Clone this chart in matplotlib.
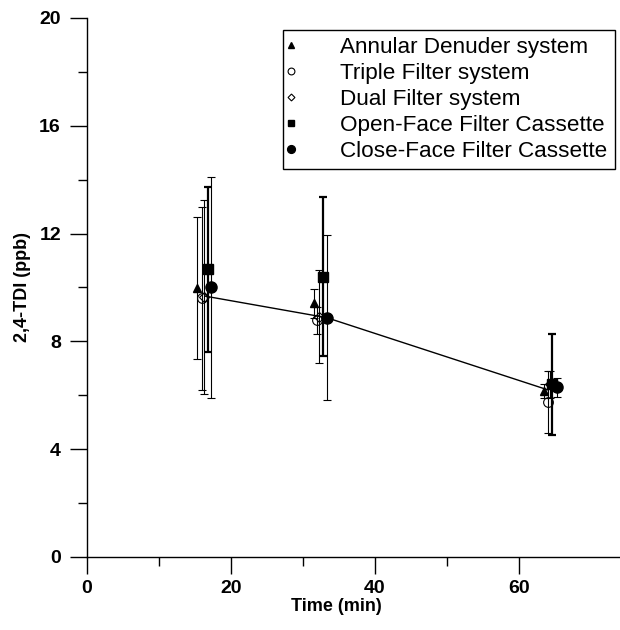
import matplotlib
matplotlib.use("Agg")
import matplotlib.pyplot as plt
from matplotlib.ticker import FixedLocator

plt.rcParams['font.family'] = ['Liberation Sans', 'DejaVu Sans']

# Data (Time in min, 2,4-TDI in ppb)
labels = ["Annular Denuder system", "Triple Filter system", "Dual Filter system",
          "Open-Face Filter Cassette", "Close-Face Filter Cassette"]
ad_t = [15.35, 31.5, 63.4]
ad_y = [9.97, 9.41, 6.15]
ad_e = [2.63, 0.55, 0.25]
tf_t = [15.95, 31.9, 64.0]
tf_y = [9.6, 8.79, 5.75]
tf_e = [3.4, 0.5, 1.15]
df_t = [16.25, 32.25, 64.3]
df_y = [9.66, 8.91, 6.4]
df_e = [3.6, 1.72, 0.5]
of_t = [16.8, 32.8, 64.6]
of_y = [10.67, 10.4, 6.4]
of_e = [3.07, 2.96, 1.88]
cf_t = [17.25, 33.3, 65.2]
cf_y = [10.0, 8.88, 6.3]
cf_e = [4.1, 3.07, 0.35]
mean_t = [16.4, 33.3, 64.0]
mean_y = [9.68, 8.88, 6.2]

x_ticks = [0, 20, 40, 60]
x_minor = [10, 30, 50]
y_ticks = [0, 4, 8, 12, 16, 20]
y_minor = [2, 6, 10, 14, 18]

fig = plt.figure(figsize=(6.2, 6.3), dpi=100)
ax = fig.add_axes([0.1398, 0.1159, 0.8602, 0.8556])

ax.plot(mean_t, mean_y, color='black', lw=1.0, zorder=2)

series = [
    (ad_t, ad_y, ad_e, dict(marker='^', ms=6, mfc='black', mec='black'), 0.8),
    (tf_t, tf_y, tf_e, dict(marker='o', ms=7, mfc='none', mec='black', mew=0.8), 0.8),
    (df_t, df_y, df_e, dict(marker='D', ms=5, mfc='none', mec='black', mew=0.8), 0.8),
    (of_t, of_y, of_e, dict(marker='s', ms=7, mfc='black', mec='black'), 1.6),
    (cf_t, cf_y, cf_e, dict(marker='o', ms=8, mfc='black', mec='black'), 0.8),
]
for (t, y, e, mk, elw), lab in zip(series, labels):
    ax.errorbar(t, y, yerr=e, linestyle='none', color='black', ecolor='black',
                elinewidth=elw, capsize=3, capthick=elw, label=lab, zorder=3, **mk)

ax.set_xlim(0, 74)
ax.set_ylim(0, 20)
ax.spines['top'].set_visible(False)
ax.spines['right'].set_visible(False)
for s in ['left', 'bottom']:
    ax.spines[s].set_linewidth(1.0)

ax.xaxis.set_major_locator(FixedLocator(x_ticks))
ax.xaxis.set_minor_locator(FixedLocator(x_minor))
ax.yaxis.set_major_locator(FixedLocator(y_ticks))
ax.yaxis.set_minor_locator(FixedLocator(y_minor))
ax.tick_params(axis='both', which='major', direction='out', length=12.5, width=1.0,
               labelsize=14)
ax.tick_params(axis='x', which='major', pad=4)
ax.tick_params(axis='y', which='major', pad=6)
ax.tick_params(axis='both', which='minor', direction='out', length=6.5, width=1.0)
for lbl in ax.get_xticklabels() + ax.get_yticklabels():
    lbl.set_fontweight('bold')

ax.set_xlabel("Time (min)", fontsize=13, fontweight='bold')
ax.set_ylabel("2,4-TDI (ppb)", fontsize=13, fontweight='bold')
ax.xaxis.set_label_coords(0.4675, -0.076)
ax.yaxis.set_label_coords(-0.104, 0.5)

handles, labs = ax.get_legend_handles_labels()
handles = [h[0] for h in handles]
leg = ax.legend(handles, labs, loc='upper left',
                bbox_to_anchor=(0.368, 0.5, 0.6225, 0.478), mode='expand',
                fontsize=16.2, frameon=True, fancybox=False, edgecolor='black',
                framealpha=1, borderpad=0.32, handlelength=0.1, handletextpad=2.1,
                labelspacing=0.22, markerscale=0.7, borderaxespad=0)
leg.get_frame().set_linewidth(1.0)

fig.savefig("out.png", dpi=100)
